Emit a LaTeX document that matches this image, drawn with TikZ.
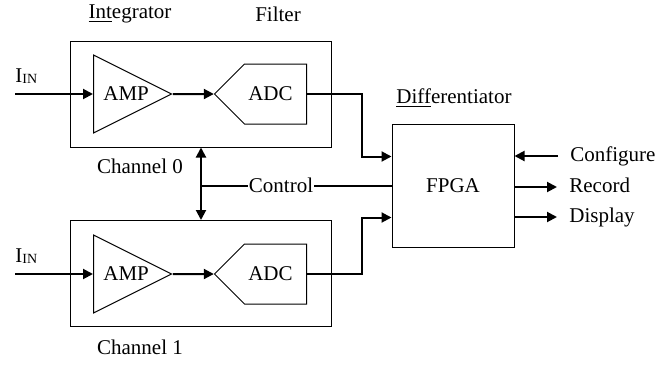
\documentclass[tikz,border=0pt]{standalone}
\usepackage{fontspec}
\setmainfont{Liberation Serif}
\usepackage{tikz}
\usetikzlibrary{arrows.meta,positioning,shapes.geometric,shapes.symbols}

\newcommand{\inlabel}{I\raisebox{-0.5pt}{\fontsize{7}{8}\selectfont IN}}

\begin{document}
\begin{tikzpicture}[
    x=0.5pt, y=-0.5pt,
    font=\fontsize{10.5}{12}\selectfont,
    channel/.style={draw, line width=0.5pt, minimum width=130.25pt, minimum height=53pt, inner sep=0pt},
    amp/.style={draw, line width=0.5pt, isosceles triangle, isosceles triangle stretches, minimum width=39pt, minimum height=39pt, inner sep=0pt, anchor=west},
    adc/.style={draw, line width=0.5pt, signal, signal to=west, signal from=nowhere, signal pointer angle=90, minimum width=46pt, minimum height=30pt, inner sep=0pt, anchor=east},
    chip/.style={draw, line width=0.5pt, minimum width=61pt, minimum height=61.5pt},
    port/.style={anchor=west, inner xsep=6pt, inner ysep=1pt, text height=1.5ex, text depth=0.25ex},
    wire/.style={line width=1pt},
    >={Triangle[length=5pt,width=5pt]}
]
    \useasboundingbox (0,0) rectangle (659,365);

    % Channel 0
    \node[channel] (ch0) at (201,94) {};
    \node[amp] (amp0) at (93,94) {\hspace*{3pt}AMP};
    \node[adc] (adc0) at (307,94) {ADC\hspace*{5pt}};
    \coordinate (in0) at (15,94);
    \node[anchor=base west, inner sep=0pt] (lin0) at (15,82) {\inlabel};

    % Channel 1
    \node[channel] (ch1) at (201,273.5) {};
    \node[amp] (amp1) at (93,274) {\hspace*{3pt}AMP};
    \node[adc] (adc1) at (307,274) {ADC\hspace*{5pt}};
    \coordinate (in1) at (15,274);
    \node[anchor=base west, inner sep=0pt] (lin1) at (15,262) {\inlabel};

    % FPGA
    \node[chip] (fpga) at (453,185.5) {FPGA};

    % Labels
    \node (integ) at (130,14) {\underline{Int}egrator};
    \node (filt) at (278,14) {Filter};
    \node (ch0lab) at (140,166) {Channel 0};
    \node (ch1lab) at (140,347) {Channel 1};
    \node (diff) at (454,98) {\underline{Diff}erentiator};

    % Signal paths
    \draw[wire,->] (in0) -- (amp0.west);
    \draw[wire,->] (amp0.apex) -- (adc0.west);
    \draw[wire,->] (adc0.east) -- ++(55,0) |- ([yshift=14.5pt]fpga.west);
    \draw[wire,->] (in1) -- (amp1.west);
    \draw[wire,->] (amp1.apex) -- (adc1.west);
    \draw[wire,->] (adc1.east) -- ++(55,0) |- ([yshift=-16pt]fpga.west);

    % Control bus
    \draw[wire,<->] (ch0.south) -- (ch1.north);
    \draw[wire] (ch0.south |- fpga.west) -- node[fill=white, inner sep=0.5pt, pos=0.42] (ctrl) {Control} (fpga.west);

    % FPGA ports
    \node[port] (cfg) at (558,156) {Configure};
    \node[port] (rec) at (557,187) {Record};
    \node[port] (disp) at (557,217) {Display};
    \draw[wire,->] (cfg.west) -- (cfg.west -| fpga.east);
    \draw[wire,->] (rec.west -| fpga.east) -- (rec.west);
    \draw[wire,->] (disp.west -| fpga.east) -- (disp.west);
\end{tikzpicture}
\end{document}
